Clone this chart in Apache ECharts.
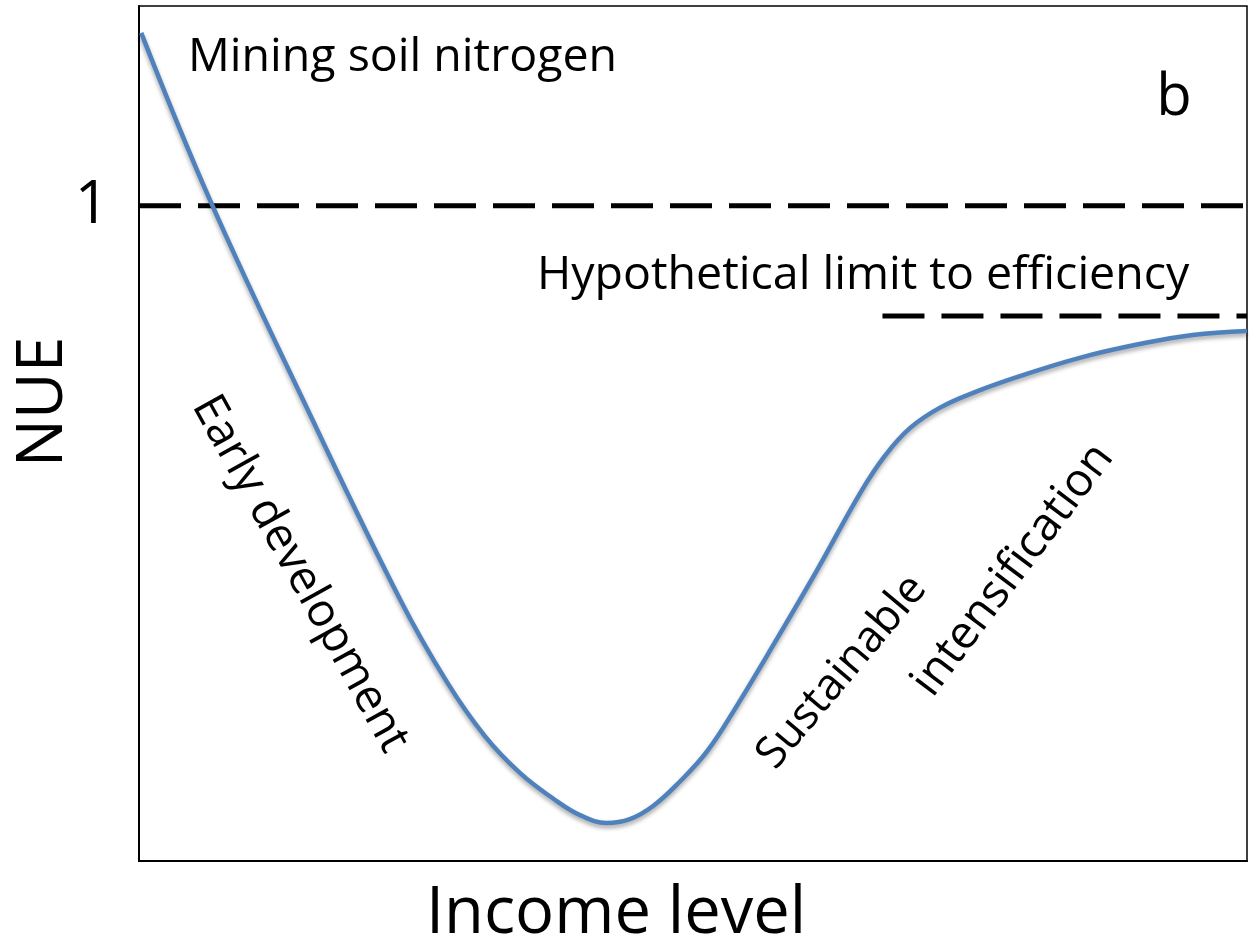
<!DOCTYPE html>
<html>
<head>
<meta charset="utf-8">
<title>NUE vs income level</title>
<script src="https://cdn.jsdelivr.net/npm/echarts@6/dist/echarts.min.js"></script>
<style>
  html, body { margin: 0; padding: 0; background: #fff; }
  #chart { width: 1249px; height: 952px; }
</style>
</head>
<body>
<div id="chart"></div>
<script>
// curve (x: income, 0-100 ; y: NUE)
const incomeLevel = [0.2, 6.4, 14.8, 23.6, 27.8, 31.2, 34.4, 37.4, 39.8, 42.2, 44.3, 46.4, 48.8, 51.3, 54.0, 56.7, 61.2, 65.1, 67.3, 69.6, 72.3, 75.5, 79.5, 84.9, 90.3, 95.1, 100];
const nueValues   = [1.264, 1.009, 0.704, 0.398, 0.273, 0.191, 0.134, 0.095, 0.070, 0.058, 0.064, 0.084, 0.121, 0.168, 0.238, 0.314, 0.444, 0.562, 0.618, 0.661, 0.692, 0.716, 0.740, 0.768, 0.789, 0.803, 0.809];

// reference lines
const balanceX = [0, 100];
const balanceY = [1, 1];
const limitX = [67.1, 100];
const limitY = [0.832, 0.832];

const yTicks = [1];

const font = '"Open Sans", "Noto Sans", sans-serif';

function pairs(xs, ys) {
    let out = [];
    for (let i = 0; i < xs.length; i++) {
        out.push([xs[i], ys[i]]);
    }
    return out;
}

let chart = echarts.init(document.getElementById('chart'));

let option = {
    backgroundColor: '#fff',
    animation: false,
    grid: {
        left: 139,
        right: 2,
        top: 6,
        bottom: 91,
        show: true,
        borderColor: '#000',
        borderWidth: 1.5,
        backgroundColor: '#fff'
    },
    xAxis: {
        type: 'value',
        min: 0,
        max: 100,
        axisLine: { show: true, lineStyle: { color: '#000', width: 2 } },
        axisTick: { show: false },
        axisLabel: { show: false },
        splitLine: { show: false }
    },
    yAxis: {
        type: 'value',
        min: 0,
        max: 1.305,
        axisLine: { show: true, lineStyle: { color: '#000', width: 2 } },
        axisTick: { show: false },
        splitLine: { show: false },
        axisLabel: {
            customValues: yTicks,
            color: '#000',
            fontSize: 60,
            fontFamily: font,
            margin: 30
        }
    },
    graphic: [
        { type: 'text', x: 188, y: 58, style: { text: 'Mining soil nitrogen', font: '46.5px ' + font, fill: '#000', textVerticalAlign: 'middle' } },
        { type: 'text', x: 1174, y: 98, style: { text: 'b', font: '58px ' + font, fill: '#000', textAlign: 'center', textVerticalAlign: 'middle' } },
        { type: 'text', x: 537, y: 276, style: { text: 'Hypothetical limit to efficiency', font: '46.5px ' + font, fill: '#000', textVerticalAlign: 'middle' } },
        { type: 'text', x: 44, y: 402, rotation: Math.PI / 2, style: { text: 'NUE', font: '64px ' + font, fill: '#000', textAlign: 'center', textVerticalAlign: 'middle' } },
        { type: 'text', x: 616, y: 914, style: { text: 'Income level', font: '65px ' + font, fill: '#000', textAlign: 'center', textVerticalAlign: 'middle' } },
        { type: 'text', x: 300, y: 574, rotation: -61 * Math.PI / 180, style: { text: 'Early development', font: '46px ' + font, fill: '#000', textAlign: 'center', textVerticalAlign: 'middle' } },
        { type: 'text', x: 842, y: 672, rotation: 50 * Math.PI / 180, style: { text: 'Sustainable', font: '44px ' + font, fill: '#000', textAlign: 'center', textVerticalAlign: 'middle' } },
        { type: 'text', x: 1013, y: 570, rotation: 53 * Math.PI / 180, style: { text: 'intensification', font: '46px ' + font, fill: '#000', textAlign: 'center', textVerticalAlign: 'middle' } }
    ],
    series: [
        {
            type: 'line',
            data: pairs(balanceX, balanceY),
            symbol: 'none',
            silent: true,
            lineStyle: { color: '#000', width: 5, type: [42, 17] }
        },
        {
            type: 'line',
            data: pairs(limitX, limitY),
            symbol: 'none',
            silent: true,
            lineStyle: { color: '#000', width: 5, type: [42, 17] }
        },
        {
            type: 'line',
            data: pairs(incomeLevel, nueValues),
            symbol: 'none',
            smooth: 0.4,
            silent: true,
            lineStyle: {
                color: '#4f81bd',
                width: 4.5,
                shadowColor: 'rgba(0,0,0,0.35)',
                shadowBlur: 4,
                shadowOffsetY: 3
            }
        }
    ]
};

chart.setOption(option);

window.onresize = function () {
    chart.resize();
};
</script>
</body>
</html>
